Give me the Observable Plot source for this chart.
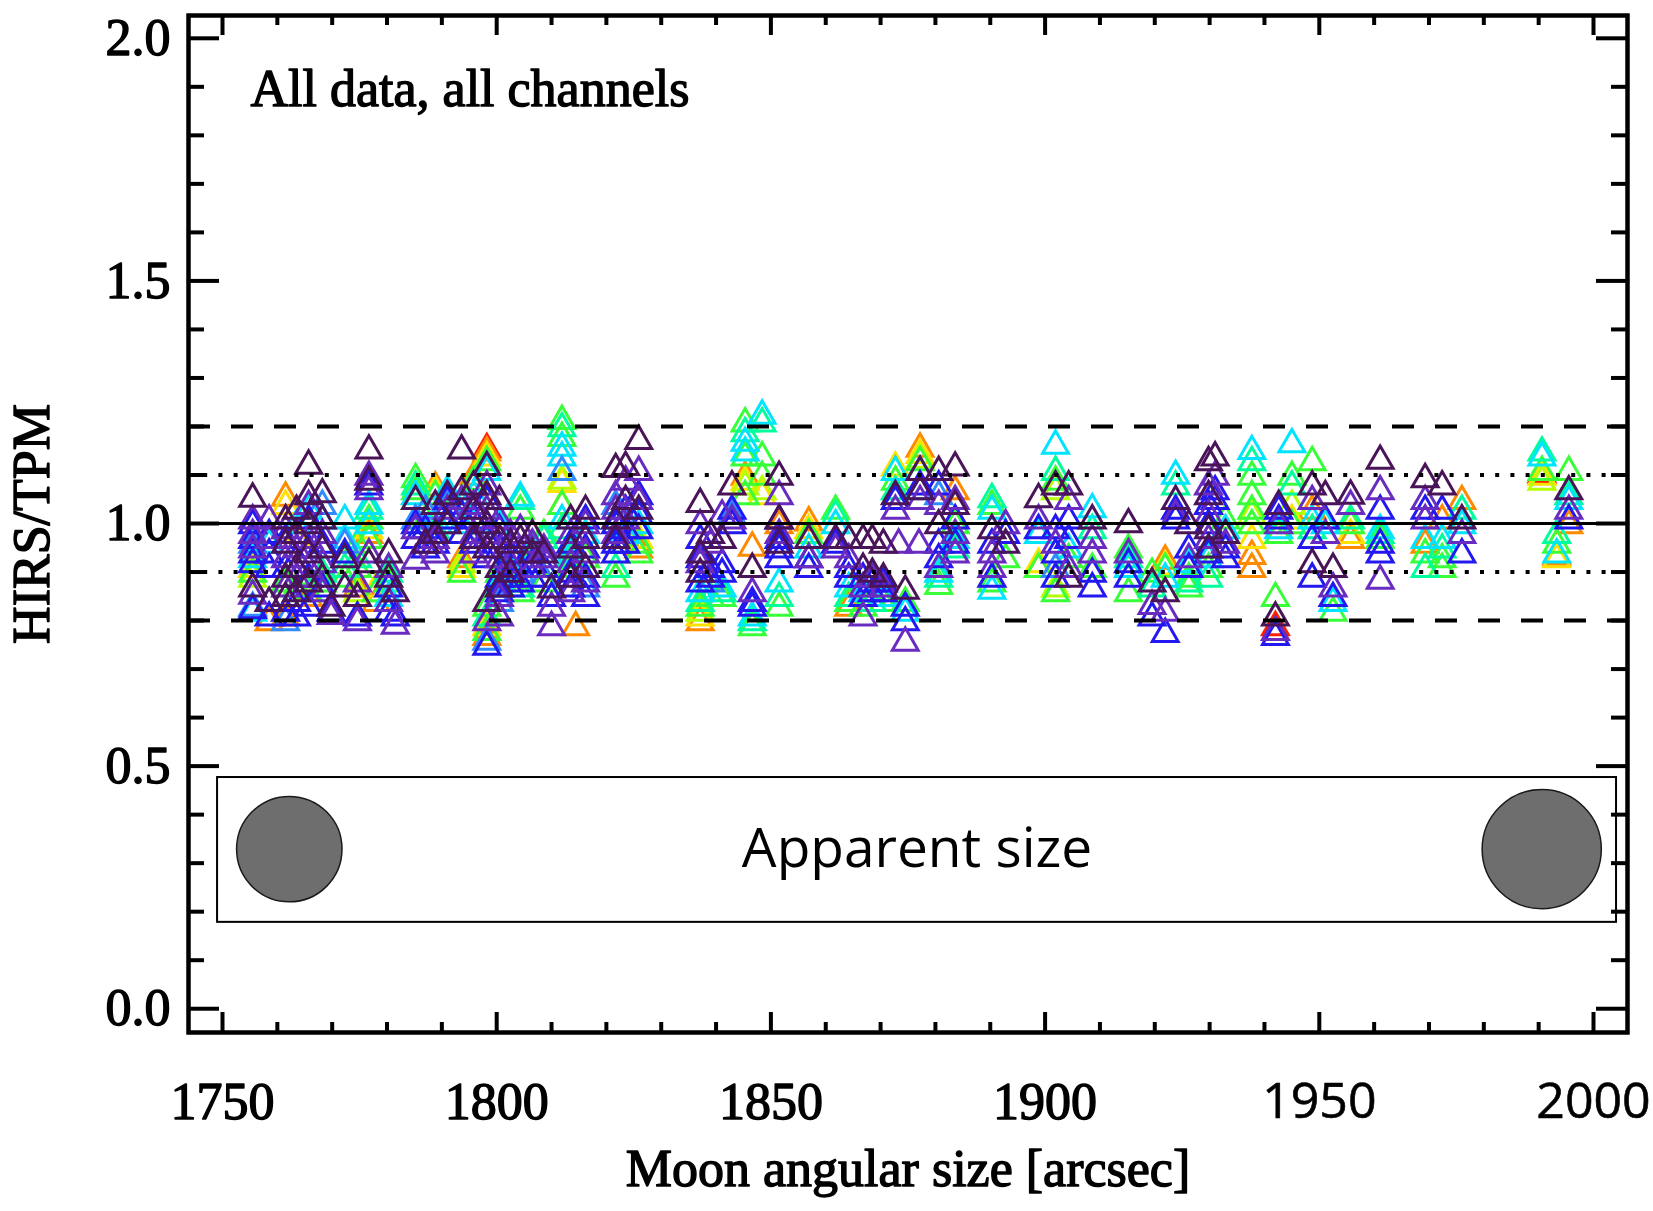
<!DOCTYPE html>
<html>
<head>
<meta charset="utf-8">
<script src="https://cdn.jsdelivr.net/npm/d3@7"></script>
<script src="https://cdn.jsdelivr.net/npm/@observablehq/plot@0.6"></script>
<style>
  html, body { margin: 0; padding: 0; background: #fff; }
  #chart svg { display: block; }
</style>
</head>
<body>
<div id="chart"></div>
<script>
// ---------------- DATA (moon angular size [arcsec], HIRS/TPM ratio) ----------------
const xTicksSerif = [1750, 1800, 1850, 1900];
const xTicksSans = [1950, 2000];
const yTicks = [0, 0.5, 1.0, 1.5, 2.0];
const refSolid = [1.0];
const refDotted = [1.1, 0.9];
const refDashed = [1.2, 0.8];

const titleText = "All data, all channels";
const xLabel = "Moon angular size [arcsec]";
const yLabel = "HIRS/TPM";
const insetText = "Apparent size";

// channel groups, drawn from red (bottom layer) to dark purple (top layer)
const redPts = [[1798.2,1.147],[1942,0.78],[1990.6,1.095]];
const orangePts = [[1758.5,0.79],[1761.5,1.047],[1761.5,0.8],[1765.7,0.84],[1774.6,0.86],[1776.7,0.97],[1778,0.83],
  [1788.8,1.068],[1793.6,0.92],[1795.8,1.09],[1798.2,1.14],[1798.2,0.76],[1811.9,1.03],[1814.4,0.78],[1823.5,0.96],
  [1825.9,0.94],[1837.1,0.79],[1845.3,1.09],[1846.6,0.944],[1851.5,0.99],[1856.9,0.996],[1864.2,0.82],[1877.2,1.148],
  [1883.6,1.06],[1898.8,0.9],[1921.9,0.917],[1937.7,0.927],[1937.7,0.9],[1948.7,1.02],[1955.7,0.96],[1969.3,0.95],
  [1972.4,1.0],[1976,1.04],[1993.3,0.925],[1995.5,0.99]];
const yellowPts = [[1755.5,0.9],[1761.5,1.03],[1763.5,0.96],[1776.7,0.98],[1778,0.86],[1788.8,1.06],[1793.6,0.9],
  [1795.8,1.07],[1798.2,1.13],[1798.2,0.78],[1811.9,1.075],[1825.9,0.96],[1837.1,0.8],[1845.3,1.08],[1848.4,1.05],
  [1856.9,0.98],[1872.7,1.109],[1877.2,1.135],[1898.8,0.91],[1921.9,0.905],[1937.7,0.96],[1945,1.0],[1955.7,0.97],
  [1990.6,1.09],[1993.3,0.92]];
const limePts = [[1755.5,0.88],[1774.6,0.85],[1785.2,1.04],[1793.6,0.91],[1811.9,1.082],[1837.1,0.81],[1845.3,1.07],
  [1848.4,1.06],[1877.2,1.125],[1901.9,1.06],[1901.9,0.86],[1937.7,1.01],[1945,1.03],[1990.6,1.08]];
const greenPts = [[1755.5,0.89],[1761.5,0.87],[1763.5,0.86],[1765.7,0.85],[1768.2,0.87],[1772.3,0.88],[1774.6,0.95],
  [1774.6,0.9],[1776.7,1.0],[1776.7,0.96],[1778,0.85],[1780.3,0.87],[1785.2,1.085],[1785.2,1.06],[1787,1.0],
  [1788.8,1.05],[1793.6,0.89],[1795.8,1.08],[1798.2,1.12],[1798.2,0.82],[1798.2,0.77],[1800.5,0.89],[1802.5,0.87],
  [1804.3,1.02],[1804.3,0.85],[1806.5,0.92],[1808.6,0.97],[1808.6,0.87],[1811.9,1.205],[1811.9,1.17],[1811.9,1.03],
  [1813.5,0.9],[1816.2,0.92],[1821.7,0.88],[1823.5,0.95],[1825.9,0.95],[1825.9,0.93],[1837.1,0.82],[1839,0.84],
  [1841.1,0.84],[1845.3,1.2],[1845.3,1.13],[1845.3,1.05],[1846.6,0.78],[1848.4,1.13],[1848.4,1.09],[1851.5,0.82],
  [1856.9,0.97],[1861.8,1.02],[1864.2,0.83],[1866.8,0.82],[1868.5,0.84],[1870.5,0.83],[1872.7,1.08],[1874.5,0.83],
  [1877.2,1.12],[1880.6,0.865],[1883.6,0.99],[1890.3,1.03],[1890.3,0.87],[1892.8,0.92],[1898.8,0.9],[1901.9,1.08],
  [1901.9,0.85],[1904.3,0.92],[1908.6,0.9],[1915.2,0.94],[1915.2,0.85],[1919.5,0.89],[1921.9,0.9],[1926.2,0.88],
  [1926.2,0.86],[1929.8,0.9],[1932.9,1.0],[1937.7,1.09],[1937.7,1.05],[1937.7,1.02],[1937.7,0.99],[1942,0.84],
  [1942.6,0.97],[1945,1.09],[1945,0.99],[1948.7,1.12],[1952.5,0.81],[1955.7,0.99],[1961.1,0.96],[1969.3,0.93],
  [1972.4,0.92],[1972.4,0.9],[1990.6,1.1],[1993.3,0.95],[1995.5,1.1]];
const seaGreenPts = [[1768.2,0.89],[1772.3,0.9],[1774.6,0.92],[1776.7,1.02],[1780.3,0.89],[1785.2,1.07],[1788.8,0.98],
  [1798.2,0.8],[1800.5,0.86],[1804.3,1.04],[1804.3,0.86],[1808.6,0.96],[1811.9,1.19],[1811.9,0.98],[1813.5,0.92],
  [1821.7,0.9],[1837.1,0.83],[1841.1,0.85],[1845.3,1.18],[1846.6,0.79],[1848.4,1.2],[1851.5,0.84],[1861.8,1.01],
  [1864.2,0.84],[1868.5,0.83],[1872.7,1.06],[1880.6,0.88],[1883.6,0.94],[1890.3,1.044],[1901.9,1.1],[1908.6,0.98],
  [1915.2,0.92],[1919.5,0.86],[1923.8,1.07],[1926.2,0.87],[1929.8,0.88],[1937.7,1.12],[1945,1.07],[1948.7,0.98],
  [1955.7,1.0],[1961.1,0.97],[1969.3,0.9],[1972.4,0.94],[1976,1.02],[1990.6,1.14],[1993.3,0.97],[1995.5,1.05]];
const cyanPts = [[1755.5,0.92],[1755.5,0.81],[1758.5,0.95],[1763.5,0.99],[1765.7,1.02],[1768.2,1.0],[1768.2,0.91],
  [1772.3,1.0],[1772.3,0.96],[1776.7,1.03],[1776.7,0.99],[1780.3,0.84],[1785.2,1.05],[1788.8,1.0],[1791,1.06],
  [1791,1.02],[1793.6,1.03],[1793.6,0.99],[1795.8,1.05],[1798.2,1.1],[1800.5,0.99],[1800.5,0.87],[1802.5,0.9],
  [1804.3,1.047],[1806.5,0.94],[1811.9,1.15],[1811.9,1.13],[1811.9,1.0],[1813.5,0.93],[1816.2,0.97],[1821.7,1.0],
  [1823.5,0.97],[1825.9,0.99],[1837.1,0.85],[1841.1,0.86],[1845.3,1.16],[1845.3,1.14],[1846.6,0.8],[1848.4,1.216],
  [1851.5,0.87],[1856.9,0.94],[1861.8,0.99],[1864.2,0.86],[1866.8,0.85],[1870.5,0.84],[1872.7,1.1],[1874.5,0.81],
  [1877.2,1.1],[1880.6,0.89],[1883.6,0.96],[1890.3,1.02],[1890.3,0.855],[1898.8,0.97],[1901.9,1.154],[1904.3,0.94],
  [1908.6,1.023],[1915.2,0.9],[1921.9,0.88],[1923.8,1.092],[1926.2,0.91],[1929.8,0.92],[1932.9,0.98],[1937.7,1.143],
  [1942.6,0.98],[1945,1.157],[1948.7,1.0],[1951.1,0.99],[1952.5,0.83],[1961.1,0.98],[1969.3,0.96],[1972.4,0.96],
  [1976,0.99],[1990.6,1.13],[1993.3,0.93],[1995.5,1.04]];
const skyBluePts = [[1755.5,0.95],[1755.5,0.82],[1761.5,0.79],[1768.2,1.03],[1772.3,0.95],[1785.2,1.0],[1787,1.02],
  [1791,1.03],[1798.2,0.75],[1800.5,0.83],[1804.3,0.89],[1808.6,0.88],[1811.9,1.1],[1816.2,0.86],[1821.7,1.03],
  [1839,0.87],[1842.9,1.01],[1877.2,1.06],[1880.6,1.05],[1901.9,0.9]];
const bluePts = [[1755.5,0.99],[1755.5,0.96],[1755.5,0.93],[1755.5,0.91],[1755.5,0.815],[1758.5,0.97],[1758.5,0.93],
  [1758.5,0.9],[1758.5,0.8],[1761.5,0.96],[1761.5,0.9],[1761.5,0.81],[1763.5,0.92],[1763.5,0.83],[1763.5,0.8],
  [1765.7,1.0],[1765.7,0.94],[1765.7,0.88],[1765.7,0.82],[1768.2,0.95],[1768.2,0.86],[1769.8,0.81],[1772.3,0.93],
  [1774.6,0.8],[1776.7,1.07],[1780.3,0.86],[1780.3,0.81],[1781.5,0.8],[1785.2,0.99],[1785.2,0.96],[1787,0.98],
  [1787,0.94],[1788.8,0.95],[1791,1.04],[1791,1.0],[1793.6,1.01],[1793.6,0.97],[1795.8,1.0],[1795.8,0.95],
  [1798.2,1.04],[1798.2,0.96],[1798.2,0.92],[1798.2,0.74],[1800.5,0.98],[1800.5,0.94],[1800.5,0.88],[1800.5,0.85],
  [1802.5,0.93],[1802.5,0.88],[1802.5,0.86],[1804.3,0.93],[1804.3,0.9],[1804.3,0.87],[1806.5,0.91],[1806.5,0.88],
  [1808.6,0.9],[1810,0.84],[1813.5,0.95],[1813.5,0.89],[1813.5,0.86],[1816.2,1.0],[1816.2,0.94],[1816.2,0.88],
  [1816.2,0.84],[1821.7,0.99],[1821.7,0.95],[1821.7,0.93],[1823.5,1.02],[1823.5,0.98],[1823.5,0.95],[1825.9,1.05],
  [1825.9,1.01],[1825.9,0.98],[1837.1,0.96],[1837.1,0.92],[1837.1,0.87],[1839,0.9],[1839,0.88],[1841.1,0.91],
  [1841.1,0.89],[1842.9,1.02],[1842.9,0.99],[1846.6,0.82],[1846.6,0.83],[1851.5,1.0],[1851.5,0.96],[1851.5,0.92],
  [1851.5,0.94],[1856.9,0.9],[1856.9,0.92],[1861.8,0.95],[1864.2,0.88],[1864.2,0.9],[1866.8,0.88],[1866.8,0.84],
  [1868.5,0.87],[1868.5,0.85],[1870.5,0.87],[1870.5,0.85],[1872.7,1.04],[1874.5,0.82],[1874.5,0.79],[1877.2,1.07],
  [1880.6,1.07],[1880.6,0.95],[1880.6,0.92],[1883.6,1.0],[1883.6,0.95],[1890.3,0.95],[1890.3,0.88],[1892.8,0.97],
  [1898.8,0.98],[1901.9,0.98],[1901.9,0.93],[1901.9,0.88],[1904.3,1.0],[1904.3,0.96],[1908.6,0.89],[1908.6,0.86],
  [1915.2,0.91],[1915.2,0.88],[1919.5,0.8],[1921.9,0.766],[1923.8,1.0],[1923.8,1.02],[1926.2,0.94],[1926.2,0.9],
  [1929.8,1.03],[1929.8,0.99],[1929.8,0.93],[1931,1.06],[1931,1.04],[1932.9,0.92],[1932.9,0.94],[1942,0.76],
  [1942.6,1.0],[1942.6,1.02],[1948.7,0.96],[1948.7,0.88],[1951.1,1.0],[1952.5,0.84],[1961.1,1.02],[1961.1,0.93],
  [1961.1,0.95],[1969.3,1.02],[1972.4,1.02],[1976,0.93],[1995.5,1.0]];
const purplePts = [[1755.5,1.0],[1755.5,0.97],[1755.5,0.94],[1755.5,0.845],[1758.5,1.0],[1758.5,0.96],[1761.5,0.98],
  [1761.5,0.92],[1761.5,0.86],[1763.5,0.94],[1763.5,0.88],[1765.7,1.03],[1765.7,0.96],[1765.7,0.9],[1768.2,0.97],
  [1768.2,0.91],[1768.2,0.85],[1769.8,0.803],[1774.6,0.87],[1774.6,0.79],[1776.7,1.09],[1776.7,1.06],[1776.7,0.93],
  [1780.3,0.9],[1780.3,0.83],[1781.5,0.783],[1785.2,0.98],[1785.2,0.917],[1788.8,0.96],[1788.8,0.93],[1791,1.02],
  [1793.6,1.04],[1795.8,1.03],[1795.8,0.97],[1795.8,0.93],[1798.2,1.07],[1798.2,1.02],[1798.2,0.97],[1798.2,0.79],
  [1800.5,1.0],[1800.5,0.92],[1800.5,0.84],[1800.5,0.8],[1802.5,0.97],[1802.5,0.91],[1804.3,0.98],[1806.5,0.95],
  [1806.5,0.9],[1808.6,0.94],[1808.6,0.92],[1810,0.82],[1810,0.78],[1813.5,0.97],[1813.5,0.91],[1813.5,0.85],
  [1816.2,0.99],[1816.2,0.93],[1816.2,0.87],[1821.7,1.05],[1821.7,1.02],[1821.7,0.97],[1823.5,1.08],[1823.5,1.0],
  [1825.9,1.1],[1825.9,1.04],[1837.1,0.99],[1837.1,0.91],[1839,0.95],[1841.1,1.01],[1842.9,1.0],[1846.6,0.85],
  [1851.5,1.05],[1851.5,0.97],[1856.9,0.92],[1861.8,0.94],[1864.2,0.92],[1866.8,0.86],[1866.8,0.8],[1868.5,0.88],
  [1870.5,0.86],[1872.7,1.02],[1873.3,0.95],[1874.5,0.748],[1877.2,1.04],[1877,0.95],[1880.6,1.03],[1880.6,0.9],
  [1883.6,1.04],[1883.6,0.97],[1883.6,0.93],[1890.3,0.93],[1890.3,0.9],[1892.8,0.99],[1898.8,1.0],[1901.9,0.95],
  [1904.3,1.04],[1904.3,0.9],[1908.6,0.96],[1908.6,0.93],[1915.2,0.93],[1919.5,0.824],[1921.9,0.81],[1923.8,1.01],
  [1926.2,0.92],[1929.8,1.07],[1929.8,1.01],[1929.8,0.96],[1931,1.09],[1932.9,0.95],[1942,0.77],[1942.6,0.99],
  [1948.7,1.04],[1951.1,0.97],[1952.5,0.86],[1955.7,1.03],[1961.1,1.06],[1961.1,0.876],[1969.3,1.04],[1969.3,1.0],
  [1976,0.97],[1995.5,1.02]];
const darkPurplePts = [[1755.5,1.045],[1755.5,0.86],[1758.5,0.83],[1761.5,1.0],[1761.5,0.95],[1761.5,0.88],
  [1761.5,0.84],[1763.5,1.02],[1763.5,0.97],[1763.5,0.9],[1763.5,0.85],[1765.7,1.113],[1765.7,1.05],[1765.7,0.99],
  [1765.7,0.93],[1765.7,0.87],[1768.2,1.054],[1768.2,1.0],[1768.2,0.94],[1768.2,0.88],[1769.8,0.82],[1772.3,0.92],
  [1772.3,0.86],[1774.6,0.84],[1776.7,1.144],[1776.7,1.08],[1776.7,0.91],[1780.3,0.93],[1780.3,0.88],[1781.5,0.85],
  [1785.2,1.04],[1787,0.95],[1788.8,1.03],[1788.8,0.97],[1791,1.05],[1791,0.99],[1793.6,1.144],[1793.6,1.06],
  [1795.8,1.07],[1795.8,1.02],[1795.8,0.96],[1798.2,1.11],[1798.2,1.05],[1798.2,0.99],[1798.2,0.94],[1798.2,0.83],
  [1800.5,1.04],[1800.5,0.96],[1800.5,0.9],[1800.5,0.86],[1802.5,0.95],[1802.5,0.89],[1804.3,0.96],[1806.5,0.97],
  [1806.5,0.93],[1808.6,0.93],[1810,0.858],[1813.5,1.0],[1813.5,0.94],[1813.5,0.88],[1816.2,1.02],[1816.2,0.96],
  [1816.2,0.9],[1821.7,1.106],[1821.7,1.0],[1821.7,0.96],[1823.5,1.11],[1823.5,1.04],[1825.9,1.164],[1825.9,1.02],
  [1837.1,1.034],[1837.1,0.93],[1837.1,0.89],[1839,0.97],[1841.1,0.96],[1842.9,1.07],[1846.6,0.9],[1851.5,1.09],
  [1851.5,1.0],[1851.5,0.95],[1856.9,0.96],[1861.8,0.96],[1864.2,0.96],[1866.8,0.96],[1866.8,0.9],[1868.5,0.96],
  [1868.5,0.89],[1870.5,0.95],[1870.5,0.88],[1872.7,1.05],[1874.5,0.855],[1877.2,1.1],[1877.2,1.06],[1880.6,1.1],
  [1880.6,0.99],[1883.6,1.109],[1883.6,1.03],[1890.3,0.98],[1892.8,0.95],[1898.8,1.044],[1901.9,1.07],[1904.3,1.07],
  [1904.3,0.88],[1908.6,1.0],[1915.2,0.992],[1919.5,0.87],[1921.9,0.85],[1923.8,1.04],[1926.2,0.99],[1929.8,1.12],
  [1929.8,1.05],[1929.8,0.98],[1929.8,0.94],[1931,1.13],[1932.9,0.97],[1942,0.8],[1942.6,1.03],[1948.7,1.07],
  [1948.7,0.91],[1951.1,1.05],[1952.5,0.9],[1955.7,1.051],[1961.1,1.123],[1969.3,1.085],[1972.4,1.07],[1976,1.0],
  [1995.5,1.06]];

// ---------------- LAYOUT / STYLE ----------------
const W = 1653, H = 1211;
const mL = 188, mR = 26, mT = 15, mB = 179;
const xDom = [1743.8, 2006.2];
const yDom = [-0.049, 2.047];
const xPerPx = (xDom[1] - xDom[0]) / (W - mL - mR);
const yPerPx = (yDom[1] - yDom[0]) / (H - mT - mB);

const groups = [
  [redPts, "#ff2000"],
  [orangePts, "#ff8a00"],
  [yellowPts, "#ffe000"],
  [limePts, "#b4ff00"],
  [greenPts, "#38ff38"],
  [seaGreenPts, "#00ff9c"],
  [cyanPts, "#00e4ff"],
  [skyBluePts, "#2f8cff"],
  [bluePts, "#2418f0"],
  [purplePts, "#6a2cc0"],
  [darkPurplePts, "#4a1459"]
];

const xMinor = d3.range(1760, 2000, 10).filter(v => v % 50 !== 0);
const yMinor = d3.range(1, 20).map(i => i / 10).filter(v => Math.abs(v * 2 - Math.round(v * 2)) > 1e-9);
const xMajor = xTicksSerif.concat(xTicksSans);

const serif = "'Liberation Serif', 'Times New Roman', serif";
const sans = "'Open Sans', 'Liberation Sans', sans-serif";
const tickW = 4;
const txtStroke = 1.4;

const marks = [];
// triangles
for (const [pts, col] of groups) {
  marks.push(Plot.dot(pts, {
    x: d => d[0], y: d => d[1], symbol: "triangle", r: 9.6,
    stroke: col, strokeWidth: 3, fill: "none", dy: -3
  }));
}
// reference lines
marks.push(Plot.ruleY(refDashed, {stroke: "black", strokeWidth: 4, strokeDasharray: "22,21"}));
marks.push(Plot.ruleY(refDotted, {stroke: "black", strokeWidth: 4, strokeDasharray: "4,11.2"}));
marks.push(Plot.ruleY(refSolid, {stroke: "black", strokeWidth: 3}));

// inset "Apparent size" box
marks.push(Plot.rect([0], {x1: 1749.1, x2: 2004.2, y1: 0.178, y2: 0.4765, fill: "white", stroke: "black", strokeWidth: 2}));
marks.push(Plot.dot([0], {x: 1762.18, y: 0.329, r: 52.7, fill: "#6e6e6e", stroke: "#1a1a1a", strokeWidth: 1.5}));
marks.push(Plot.dot([0], {x: 1990.56, y: 0.329, r: 59.6, fill: "#6e6e6e", stroke: "#1a1a1a", strokeWidth: 1.5}));
marks.push(Plot.text([insetText], {x: 1876.65, y: 0.329, text: d => d, fontSize: 55, fontFamily: sans,
  textAnchor: "middle", lineAnchor: "middle", fill: "black"}));

// frame and inward ticks on all four sides
marks.push(Plot.frame({stroke: "black", strokeWidth: 4.5}));
marks.push(Plot.ruleX(xMajor, {y1: yDom[0], y2: yDom[0] + 20 * yPerPx, stroke: "black", strokeWidth: tickW}));
marks.push(Plot.ruleX(xMajor, {y1: yDom[1], y2: yDom[1] - 20 * yPerPx, stroke: "black", strokeWidth: tickW}));
marks.push(Plot.ruleX(xMinor, {y1: yDom[0], y2: yDom[0] + 10 * yPerPx, stroke: "black", strokeWidth: tickW}));
marks.push(Plot.ruleX(xMinor, {y1: yDom[1], y2: yDom[1] - 10 * yPerPx, stroke: "black", strokeWidth: tickW}));
marks.push(Plot.ruleY(yTicks, {x1: xDom[0], x2: xDom[0] + 31 * xPerPx, stroke: "black", strokeWidth: tickW}));
marks.push(Plot.ruleY(yTicks, {x1: xDom[1], x2: xDom[1] - 31 * xPerPx, stroke: "black", strokeWidth: tickW}));
marks.push(Plot.ruleY(yMinor, {x1: xDom[0], x2: xDom[0] + 16 * xPerPx, stroke: "black", strokeWidth: tickW}));
marks.push(Plot.ruleY(yMinor, {x1: xDom[1], x2: xDom[1] - 16 * xPerPx, stroke: "black", strokeWidth: tickW}));

// axes (labels only)
marks.push(Plot.axisY(yTicks, {tickSize: 0, tickPadding: 18, tickFormat: d => d.toFixed(1),
  fontSize: 52, fontFamily: serif, label: null, color: "black",
  textStroke: "black", textStrokeWidth: txtStroke}));
marks.push(Plot.axisX(xTicksSerif, {tickSize: 0, tickPadding: 50, tickFormat: d => String(d),
  fontSize: 52, fontFamily: serif, label: null, color: "black",
  textStroke: "black", textStrokeWidth: txtStroke}));
marks.push(Plot.axisX(xTicksSans, {tickSize: 0, tickPadding: 50, tickFormat: d => String(d),
  fontSize: 50, fontFamily: sans, label: null, color: "black",
  textStroke: "black", textStrokeWidth: 0.6}));

// titles
marks.push(Plot.text([titleText], {frameAnchor: "top-left", dx: 62, dy: 73.4, text: d => d,
  textAnchor: "start", lineAnchor: "middle", fontSize: 52, fontFamily: serif, fill: "black",
  stroke: "black", strokeWidth: txtStroke}));
marks.push(Plot.text([xLabel], {frameAnchor: "bottom", dy: 137, text: d => d,
  textAnchor: "middle", lineAnchor: "middle", fontSize: 52, fontFamily: serif, fill: "black",
  stroke: "black", strokeWidth: txtStroke}));
marks.push(Plot.text([yLabel], {frameAnchor: "left", dx: -156, rotate: -90, text: d => d,
  textAnchor: "middle", lineAnchor: "middle", fontSize: 52, fontFamily: serif, fill: "black",
  stroke: "black", strokeWidth: txtStroke}));

const chart = Plot.plot({
  width: W, height: H,
  marginLeft: mL, marginRight: mR, marginTop: mT, marginBottom: mB,
  x: {domain: xDom},
  y: {domain: yDom},
  style: {background: "white", color: "black"},
  marks
});
document.getElementById("chart").appendChild(chart);
</script>
</body>
</html>
